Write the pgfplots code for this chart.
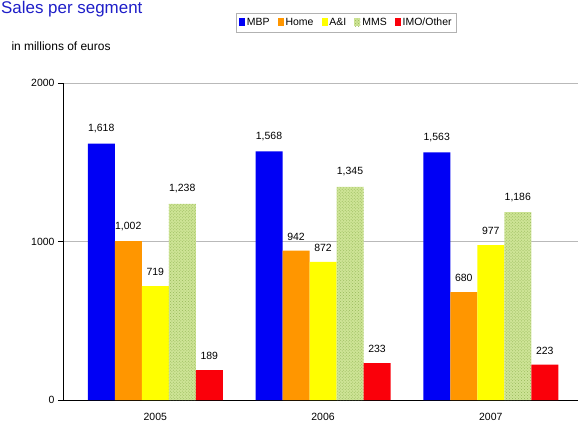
\documentclass[border=0pt]{standalone}
\usepackage{fontspec}
\setmainfont{Liberation Sans}
\usepackage{pgfplots}
\pgfplotsset{compat=1.18}
\usetikzlibrary{patterns}

\definecolor{mbp}{RGB}{0,0,245}
\definecolor{home}{RGB}{255,150,0}
\definecolor{ai}{RGB}{255,255,0}
\definecolor{mms}{RGB}{206,228,150}
\definecolor{mmsdot}{RGB}{150,185,90}
\definecolor{imo}{RGB}{250,0,10}
\definecolor{titleblue}{RGB}{30,30,200}

\begin{document}
\begin{tikzpicture}
\begin{axis}[
  at={(0,0)}, anchor=south west,
  scale only axis,
  width=515bp, height=317bp,
  xmin=-0.55, xmax=2.52,
  ymin=0, ymax=2000,
  axis lines=left,
  axis line style={-, black, line width=0.8pt},
  ybar=0pt,
  bar width=27bp,
  xtick={0,1,2},
  xticklabels={2005,2006,2007},
  extra x ticks={0.5,1.5,2.5},
  extra x tick labels={},
  extra x tick style={major tick length=5bp, tick style={black}, grid=none},
  major x tick style={draw=none},
  ytick={0,1000,2000},
  ymajorgrids,
  grid style={gray!55, line width=0.6pt},
  tick align=outside,
  major tick length=5bp,
  tick style={black},
  /pgf/number format/assume math mode=true,
  yticklabel style={/pgf/number format/1000 sep={}, font=\fontsize{10.5}{12}\selectfont},
  xticklabel style={font=\fontsize{10.5}{12}\selectfont, yshift=-5bp},
  nodes near coords,
  every node near coord/.append style={font=\fontsize{10.5}{12}\selectfont, yshift=7bp,
     /pgf/number format/1000 sep={,}, /pgf/number format/assume math mode=true},
  legend columns=5,
  legend style={at={(0.55,1.19)}, anchor=center, draw=gray!60,
     font=\fontsize{10.5}{12}\selectfont, inner sep=3bp,
     /tikz/every even column/.append style={column sep=6bp}},
  legend image code/.code={\fill[#1] (0bp,-3.5bp) rectangle (6bp,4.5bp);},
  clip=false,
]
\addplot[fill=mbp, draw=none] coordinates {(0,1618) (1,1568) (2,1563)};
\addlegendentry{MBP}
\addplot[fill=home, draw=none] coordinates {(0,1002) (1,942) (2,680)};
\addlegendentry{Home}
\addplot[fill=ai, draw=none] coordinates {(0,719) (1,872) (2,977)};
\addlegendentry{A\&I}
\addplot[fill=mms, draw=none, postaction={pattern=crosshatch dots, pattern color=mmsdot}] coordinates {(0,1238) (1,1345) (2,1186)};
\addlegendentry{MMS}
\addplot[fill=imo, draw=none] coordinates {(0,189) (1,233) (2,223)};
\addlegendentry{IMO/Other}
\end{axis}
% axis label, set horizontally above the value axis
\node[anchor=west, font=\fontsize{12}{14}\selectfont] at (-55bp,354bp) {in millions of euros};
% chart heading
\node[anchor=base west, inner sep=0pt, text=titleblue, font=\fontsize{17}{20}\selectfont] at (-62bp,386.5bp) {Sales per segment};
\pgfresetboundingbox
\path[use as bounding box] (-63bp,-30bp) rectangle (515bp,400bp);
\end{tikzpicture}
\end{document}
